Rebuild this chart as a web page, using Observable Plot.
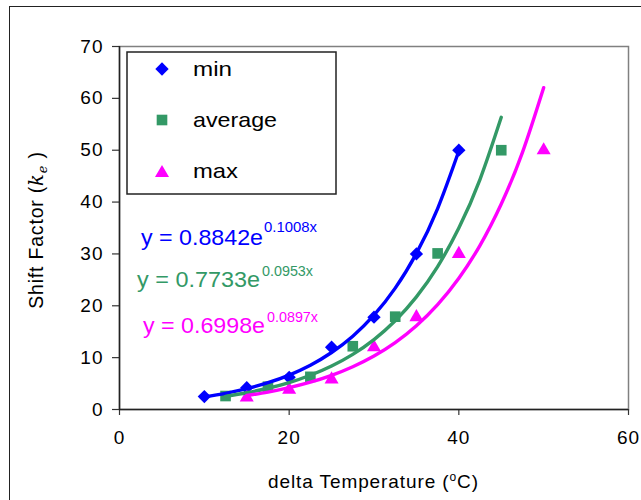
<!DOCTYPE html>
<html><head><meta charset="utf-8">
<script src="https://cdn.jsdelivr.net/npm/d3@7"></script>
<script src="https://cdn.jsdelivr.net/npm/@observablehq/plot@0.6"></script>
<style>
html,body{margin:0;padding:0;background:#fff;overflow:hidden;width:641px;height:500px}
#wrap{position:relative;width:641px;height:500px;overflow:hidden}
#outer{position:absolute;left:9px;top:6px;width:700px;height:600px;border:1.5px solid #222;box-sizing:border-box}
#chart{position:absolute;left:0;top:0}
</style></head><body><div id="wrap"><div id="outer"></div><div id="chart"></div></div>
<script>
// ---- data ----
const seriesNames = ["min", "average", "max"];
const seriesColors = ["#0000FF", "#339966", "#FF00FF"];
const seriesSymbols = ["diamond2", "square", "triangle"];

const minX = [10, 15, 20, 25, 30, 35, 40];
const minY = [2.5, 4.2, 6.2, 12.0, 17.8, 30.0, 50.0];
const avgX = [12.5, 17.5, 22.5, 27.5, 32.5, 37.5, 45];
const avgY = [2.6, 4.4, 6.3, 12.2, 17.9, 30.1, 50.0];
const maxX = [15, 20, 25, 30, 35, 40, 50];
const maxY = [2.3, 3.8, 5.8, 12.0, 17.8, 30.0, 50.0];

// trend lines (exponential fits as drawn)
const trendMinX = [10, 12.5, 15, 17.5, 20, 22.5, 25, 27.5, 30, 32.5, 35, 37.5, 40];
const trendMinY = [2.42, 3.12, 4.01, 5.16, 6.64, 8.54, 10.99, 14.14, 18.19, 23.40, 30.11, 38.75, 49.84];
const trendAvgX = [12.5, 15, 17.5, 20, 22.5, 25, 27.5, 30, 32.5, 35, 37.5, 40, 42.5, 45];
const trendAvgY = [2.54, 3.23, 4.10, 5.20, 6.60, 8.38, 10.63, 13.49, 17.12, 21.72, 27.57, 34.98, 44.39, 56.34];
const trendMaxX = [15, 17.5, 20, 22.5, 25, 27.5, 30, 32.5, 35, 37.5, 40, 42.5, 45, 47.5, 50];
const trendMaxY = [2.69, 3.36, 4.21, 5.27, 6.59, 8.25, 10.32, 12.91, 16.16, 20.22, 25.31, 31.66, 39.62, 49.59, 62.07];

const eqCoef = ["0.8842", "0.7733", "0.6998"];
const eqExp = ["0.1008x", "0.0953x", "0.0897x"];

const xTicks = [0, 20, 40, 60];
const yTicks = [0, 10, 20, 30, 40, 50, 60, 70];
const xTitle = "delta Temperature (";
const yTitle = "Shift Factor (";

// ---- build ----
const zip = (xs, ys) => xs.map((x, i) => ({x, y: ys[i]}));
const pts = [zip(minX, minY), zip(avgX, avgY), zip(maxX, maxY)];
const trends = [zip(trendMinX, trendMinY), zip(trendAvgX, trendAvgY), zip(trendMaxX, trendMaxY)];
const dotR = [6.0, 6.0, 5.2];
const font = '"Liberation Sans", Arial, sans-serif';

const chart = Plot.plot({
  width: 641, height: 500,
  marginLeft: 119, marginRight: 13, marginTop: 46, marginBottom: 91,
  style: {fontFamily: font, fontSize: "19px", color: "#000", background: "transparent", letterSpacing: "1px"},
  x: {domain: [0, 60]},
  y: {domain: [0, 70]},
  marks: [
    Plot.frame({stroke: "#808080", strokeWidth: 1.5}),
    Plot.axisY({ticks: yTicks, tickSize: 7, tickPadding: 9, label: null, stroke: "#333", strokeWidth: 1.2}),
    Plot.axisX({ticks: xTicks, tickSize: 6, tickPadding: 15, label: null, stroke: "#333", strokeWidth: 1.2}),
    Plot.ruleX([0], {stroke: "#222", strokeWidth: 1.5}),
    Plot.ruleY([0], {stroke: "#222", strokeWidth: 1.5}),
    ...pts.map((p, i) => Plot.dot(p, {x: "x", y: "y", symbol: () => seriesSymbols[i], fill: seriesColors[i], r: dotR[i]})),
    ...trends.map((t, i) => Plot.line(t, {x: "x", y: "y", stroke: seriesColors[i], strokeWidth: 3.4, curve: "natural"}))
  ]
});
document.getElementById("chart").appendChild(chart);

const svg = d3.select(chart);
const txt = (sel) => sel.append("text").attr("text-anchor", "start").attr("font-family", font).attr("letter-spacing", "0px");

// axis titles
const xt = txt(svg).attr("x", 268).attr("y", 488).attr("font-size", 19).attr("letter-spacing", "0.9px").attr("fill", "#000");
xt.append("tspan").text(xTitle);
xt.append("tspan").attr("font-size", 12).attr("dy", -7).text("o");
xt.append("tspan").attr("dy", 7).text("C)");

const yt = txt(svg).attr("transform", "translate(43,230) rotate(-90)")
  .attr("text-anchor", "middle").attr("font-size", 19.5).attr("letter-spacing", "0.8px").attr("fill", "#000");
yt.append("tspan").text(yTitle);
yt.append("tspan").attr("font-family", '"DejaVu Serif", "Liberation Serif", serif').attr("font-style", "italic").text("k");
yt.append("tspan").attr("font-family", '"DejaVu Serif", "Liberation Serif", serif').attr("font-style", "italic").attr("font-size", 13).attr("dy", 4).text("e");
yt.append("tspan").attr("dy", -4).text(" )");

// equations
const eqLayout = [
  {x0: 141, x1: 263, b: 245, s0: 264, s1: 317, sb: 232},
  {x0: 137, x1: 260, b: 287, s0: 262, s1: 313, sb: 276},
  {x0: 143, x1: 265, b: 333, s0: 267, s1: 318, sb: 322}
];
eqLayout.forEach((L, i) => {
  txt(svg).attr("x", L.x0).attr("y", L.b).attr("font-size", 22)
    .attr("fill", seriesColors[i]).attr("textLength", L.x1 - L.x0).attr("lengthAdjust", "spacingAndGlyphs")
    .text("y = " + eqCoef[i] + "e");
  txt(svg).attr("x", L.s0).attr("y", L.sb).attr("font-size", 14)
    .attr("fill", seriesColors[i]).attr("textLength", L.s1 - L.s0).attr("lengthAdjust", "spacingAndGlyphs")
    .text(eqExp[i]);
});

// legend
const lg = svg.append("g");
lg.append("rect").attr("x", 127).attr("y", 52).attr("width", 209).attr("height", 142)
  .attr("fill", "#fff").attr("stroke", "#222").attr("stroke-width", 1.5);
const symMap = {diamond2: d3.symbolDiamond2, square: d3.symbolSquare, triangle: d3.symbolTriangle};
const legY = [69, 120, 173];
const legBase = [76, 127, 178];
const legLen = [39, 84, 45];
seriesNames.forEach((n, i) => {
  lg.append("path").attr("transform", `translate(162,${legY[i]})`)
    .attr("d", d3.symbol(symMap[seriesSymbols[i]], Math.PI * dotR[i] * dotR[i])())
    .attr("fill", seriesColors[i]);
  txt(lg).attr("x", 193).attr("y", legBase[i]).attr("font-size", 21)
    .attr("fill", "#000").attr("textLength", legLen[i]).attr("lengthAdjust", "spacingAndGlyphs").text(n);
});
</script></body></html>
